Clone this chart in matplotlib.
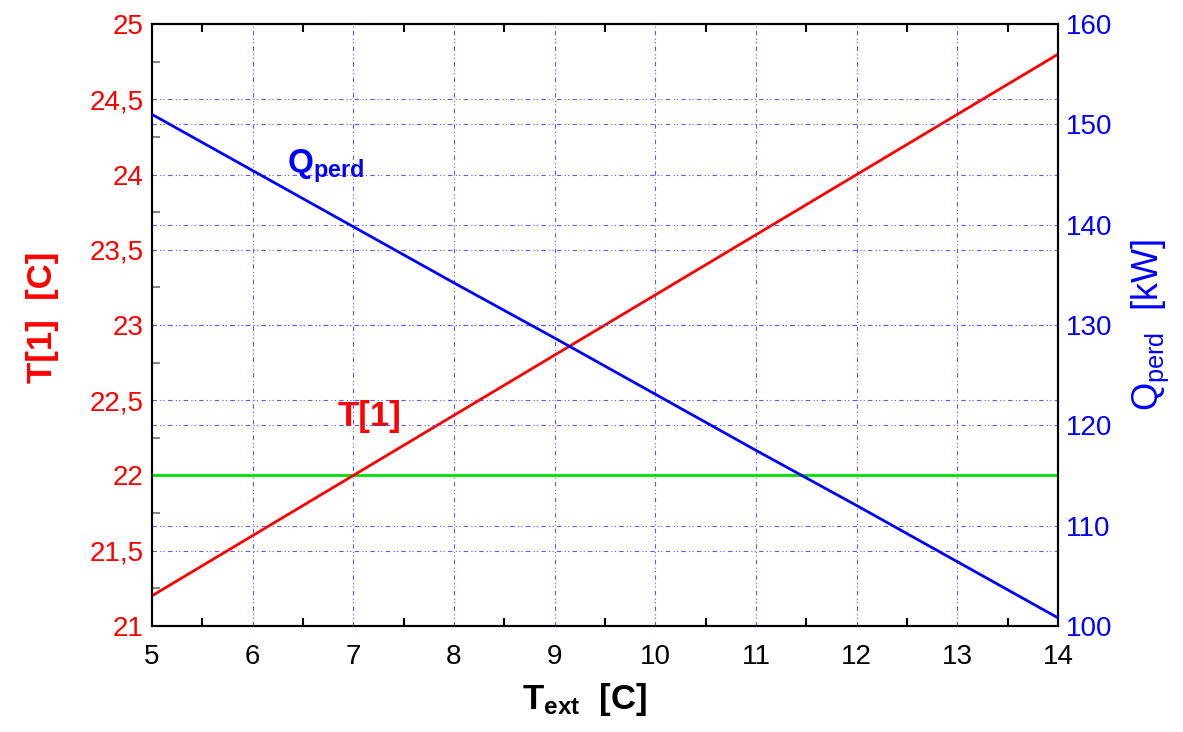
import numpy as np
import matplotlib.pyplot as plt
from matplotlib.ticker import FixedLocator, FuncFormatter

plt.rcParams['font.family'] = ['Liberation Sans', 'DejaVu Sans']
plt.rcParams['mathtext.fontset'] = 'custom'
plt.rcParams['mathtext.rm'] = 'Liberation Sans'
plt.rcParams['mathtext.it'] = 'Liberation Sans:italic'
plt.rcParams['mathtext.bf'] = 'Liberation Sans:bold'

# dados
t_ext = [5, 6, 7, 8, 9, 10, 11, 12, 13, 14]
t1 = [21.2, 21.6, 22.0, 22.4, 22.8, 23.2, 23.6, 24.0, 24.4, 24.8]
q_perd = [151.0, 145.4, 139.8, 134.2, 128.7, 123.1, 117.5, 112.0, 106.4, 100.8]
t_ref = 22.0

y_esq_ticks = [21, 21.5, 22, 22.5, 23, 23.5, 24, 24.5, 25]
y_dir_ticks = [100, 110, 120, 130, 140, 150, 160]
x_ticks = [5, 6, 7, 8, 9, 10, 11, 12, 13, 14]

vermelho = '#ff0000'
azul = '#0000ff'
verde = '#00e000'
grade = '#5a5aff'
estilo_grade = (0, (4, 3, 1, 2, 1, 3))

fig = plt.figure(figsize=(11.83, 7.32), dpi=100)
ax = fig.add_axes([0.1285, 0.145, 0.7658, 0.822])
ax2 = ax.twinx()

ax.set_xlim(5, 14)
ax.set_ylim(21, 25)
ax2.set_ylim(100, 160)

# grade manual
for xv in x_ticks[1:-1]:
    ax.axvline(xv, color=grade, lw=0.8, ls=estilo_grade, zorder=0)
for yv in y_esq_ticks[1:-1]:
    ax.axhline(yv, color=grade, lw=0.8, ls=estilo_grade, zorder=0)
for yv in y_dir_ticks[1:-1]:
    ax2.axhline(yv, color=grade, lw=0.8, ls=estilo_grade, zorder=0)

ax.plot(t_ext, [t_ref] * len(t_ext), color=verde, lw=2, zorder=3)
ax.plot(t_ext, t1, color=vermelho, lw=2, zorder=3)
ax2.plot(t_ext, q_perd, color=azul, lw=2, zorder=3)

virgula = FuncFormatter(lambda v, p: ('%g' % v).replace('.', ','))

ax.set_xticks(x_ticks)
ax.set_xticks(np.arange(5.5, 14, 1.0), minor=True)
ax.tick_params(axis='x', which='major', length=0, labelsize=20, pad=13, colors='black')
ax.tick_params(axis='x', which='minor', direction='in', length=6, width=1.5,
               top=True, bottom=True, color='black')

ax.yaxis.set_major_locator(FixedLocator(y_esq_ticks))
ax.yaxis.set_major_formatter(virgula)
ax.yaxis.set_minor_locator(FixedLocator(np.arange(21.25, 25, 0.5)))
ax.tick_params(axis='y', which='major', length=0, labelsize=20, pad=6, labelcolor=vermelho)
ax.tick_params(axis='y', which='minor', direction='in', length=6, width=1.2, color='#707070')

ax2.set_yticks(y_dir_ticks)
ax2.tick_params(axis='y', which='major', length=0, labelsize=20, pad=6, labelcolor=azul)

for a in (ax, ax2):
    for s in a.spines.values():
        s.set_linewidth(1.5)
        s.set_color('black')

ax.set_xlabel(r'$\mathbf{T_{ext}}$  [C]', fontsize=25, fontweight='bold', labelpad=8)
ax.xaxis.label.set_x(0.478)
ax.set_ylabel('T[1]  [C]', fontsize=25, fontweight='bold', color=vermelho, labelpad=22)
ax.yaxis.label.set_y(0.512)
ax2.set_ylabel(r'$\mathregular{Q_{perd}}$  [kW]', fontsize=26, color=azul, labelpad=12)

ax.text(6.84, 22.33, 'T[1]', color=vermelho, fontsize=25, fontweight='bold')
ax2.text(6.34, 145.2, r'$\mathbf{Q_{perd}}$', color=azul, fontsize=24)

fig.savefig('out.png', dpi=100)
